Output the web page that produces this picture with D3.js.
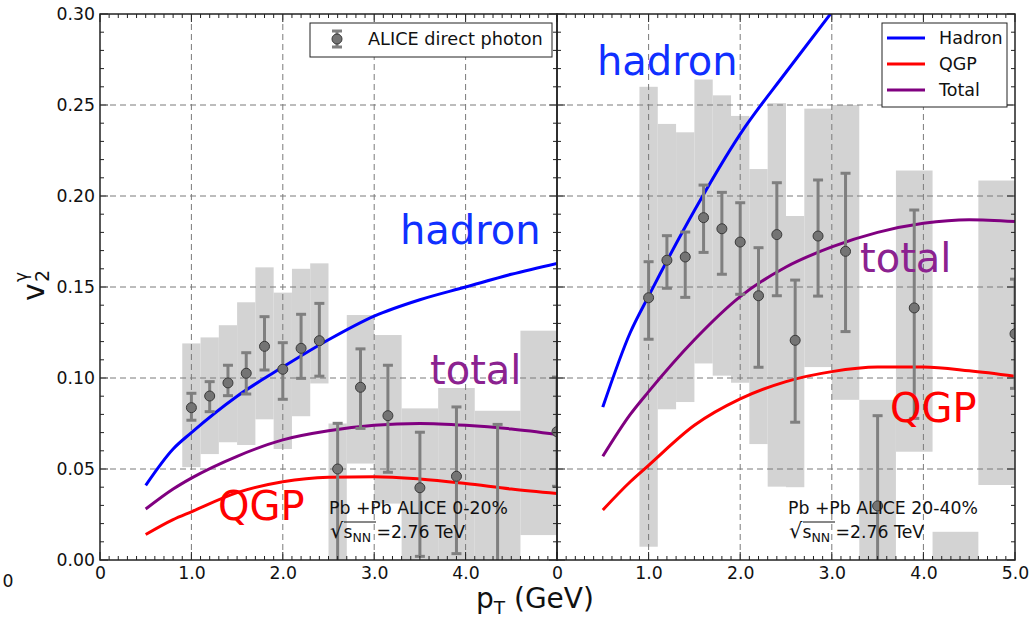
<!DOCTYPE html>
<html><head><meta charset="utf-8">
<script src="https://cdn.jsdelivr.net/npm/d3@7"></script>
<style>body{margin:0;background:#fff} svg{display:block} text{font-family:"DejaVu Sans",sans-serif}</style>
</head><body><svg id="c" width="1033" height="621"></svg>
<script>
// ---------- data ----------
const binLo = [0.9,1.1,1.3,1.5,1.7,1.9,2.1,2.3,2.5,2.7,3.0,3.3,3.7,4.1,4.6];
const binHi = [1.1,1.3,1.5,1.7,1.9,2.1,2.3,2.5,2.7,3.0,3.3,3.7,4.1,4.6,5.4];
// 0-20% systematics (top / bottom)
const sysTopL = [0.119,0.1223,0.129,0.1416,0.1608,0.1469,0.160,0.163,0.075,0.1346,0.1236,0.0833,0.0945,0.082,0.126];
const sysBotL = [0.051,0.0582,0.0647,0.0632,0.0773,0.061,0.079,0.097,-0.05,0.053,0.031,-0.05,-0.05,-0.05,0.0137];
// 20-40% systematics
const sysTopR = [0.260,0.2396,0.235,0.264,0.2553,0.244,0.2148,0.251,0.189,0.248,0.250,0.088,0.214,0.0155,0.2085];
const sysBotR = [0.0073,0.0828,0.0868,0.108,0.1013,0.0974,0.0637,0.0403,0.040,0.106,0.088,-0.05,0.0595,-0.05,0.0412];

// data points 0-20%
const ptL   = [1.0,1.2,1.4,1.6,1.8,2.0,2.2,2.4,2.6,2.85,3.15,3.5,3.9,4.35,5.0];
const v2L   = [0.0837,0.0901,0.0973,0.1026,0.1174,0.1048,0.1163,0.1205,0.050,0.0949,0.0793,0.0397,0.046,-0.015,0.0705];
const errLoL= [0.0069,0.0086,0.0070,0.0114,0.0130,0.0165,0.0165,0.0195,0.060,0.0226,0.0311,0.0377,0.0425,0.090,0.030];
const errHiL= [0.0079,0.0079,0.0097,0.0113,0.0163,0.0146,0.0187,0.0205,0.0251,0.0211,0.0277,0.0305,0.0381,0.0895,0.030];
// data points 20-40%
const ptR   = [1.0,1.2,1.4,1.6,1.8,2.0,2.2,2.4,2.6,2.85,3.15,3.5,3.9,5.0];
const v2R   = [0.1441,0.1647,0.1665,0.1881,0.182,0.1747,0.1452,0.1788,0.1207,0.178,0.1696,0.0297,0.1385,0.1243];
const errLoR= [0.0228,0.0154,0.0222,0.0191,0.025,0.0287,0.0393,0.0336,0.045,0.033,0.0441,0.060,0.0607,0.030];
const errHiR= [0.0198,0.0135,0.0137,0.0179,0.020,0.0216,0.0264,0.0285,0.0331,0.0308,0.0429,0.0496,0.0538,0.030];

// model curves
const ptCurve   = [0.5,0.8,1.0,1.5,2.0,2.5,3.0,3.5,4.0,4.5,5.0];
const hadronL   = [0.041,0.061,0.070,0.090,0.106,0.121,0.134,0.143,0.150,0.157,0.163];
const qgpL      = [0.014,0.0222,0.0265,0.037,0.043,0.0455,0.0458,0.0445,0.042,0.039,0.0365];
const totalL    = [0.028,0.039,0.045,0.057,0.066,0.071,0.074,0.075,0.074,0.072,0.069];
const hadronR   = [0.084,0.125,0.145,0.192,0.234,0.268,0.301];
const qgpR      = [0.0275,0.043,0.052,0.074,0.0885,0.098,0.1035,0.106,0.106,0.104,0.101];
const totalR    = [0.057,0.080,0.0925,0.121,0.1447,0.161,0.172,0.180,0.185,0.187,0.186];

const yTicks = [0,0.05,0.10,0.15,0.20,0.25,0.30];
const xTicksL = [0,1,2,3,4];
const xTicksR = [0,1,2,3,4,5];
const legendNames = ["Hadron","QGP","Total"];
const colors = {hadron:"#0000ff", qgp:"#ff0000", total:"#800080"};

// ---------- drawing ----------
const svg = d3.select('#c');
const yTop = 14, yBot = 560;
const y = d3.scaleLinear().domain([0,0.3]).range([yBot,yTop]);
const FS = 17.3;

const panels = [
  {x: d3.scaleLinear().domain([0,5]).range([100,557]), sysTop: sysTopL, sysBot: sysBotL,
   pt: ptL, v2: v2L, lo: errLoL, hi: errHiL, hadron: hadronL, qgp: qgpL, total: totalL, xt: xTicksL},
  {x: d3.scaleLinear().domain([0,5]).range([557,1015]), sysTop: sysTopR, sysBot: sysBotR,
   pt: ptR, v2: v2R, lo: errLoR, hi: errHiR, hadron: hadronR, qgp: qgpR, total: totalR, xt: xTicksR}
];

const defs = svg.append('defs');
panels.forEach((p, k) => {
  const x = p.x;
  const [x0, x1] = x.range();
  defs.append('clipPath').attr('id', 'clip' + k).append('rect')
    .attr('x', x0).attr('y', yTop).attr('width', x1 - x0).attr('height', yBot - yTop);
  const g = svg.append('g').attr('clip-path', `url(#clip${k})`);

  // systematic boxes
  g.append('g').selectAll('rect').data(d3.range(binLo.length)).join('rect')
    .attr('x', i => x(binLo[i])).attr('width', i => x(binHi[i]) - x(binLo[i]))
    .attr('y', i => y(p.sysTop[i])).attr('height', i => y(p.sysBot[i]) - y(p.sysTop[i]))
    .attr('fill', '#d3d3d3');

  // grid
  const grid = g.append('g').attr('stroke', '#7a7a7a').attr('stroke-width', 1)
    .attr('stroke-dasharray', '6,4').attr('fill', 'none');
  [1,2,3,4].forEach(v => grid.append('line').attr('x1', x(v)).attr('x2', x(v)).attr('y1', yTop).attr('y2', yBot));
  [0.05,0.10,0.15,0.20,0.25].forEach(v => grid.append('line').attr('x1', x0).attr('x2', x1).attr('y1', y(v)).attr('y2', y(v)));

  // curves
  const line = d3.line().x((d, i) => x(ptCurve[i])).y(d => y(d)).curve(d3.curveMonotoneX);
  [['qgp', p.qgp], ['total', p.total], ['hadron', p.hadron]].forEach(([n, arr]) => {
    g.append('path').datum(arr).attr('d', line).attr('fill', 'none')
      .attr('stroke', colors[n]).attr('stroke-width', 3);
  });

  // error bars
  const eb = g.append('g').attr('stroke', '#7f7f7f').attr('stroke-width', 3);
  p.pt.forEach((v, i) => {
    const cx = x(v), yl = y(p.v2[i] - p.lo[i]), yh = y(p.v2[i] + p.hi[i]);
    eb.append('line').attr('x1', cx).attr('x2', cx).attr('y1', yl).attr('y2', yh);
    eb.append('line').attr('x1', cx - 5).attr('x2', cx + 5).attr('y1', yl).attr('y2', yl);
    eb.append('line').attr('x1', cx - 5).attr('x2', cx + 5).attr('y1', yh).attr('y2', yh);
  });
  g.append('g').selectAll('circle').data(p.pt).join('circle')
    .attr('cx', d => x(d)).attr('cy', (d, i) => y(p.v2[i])).attr('r', 5)
    .attr('fill', '#747474').attr('stroke', '#3a3a3a').attr('stroke-width', 1);

  // frame
  svg.append('rect').attr('x', x0).attr('y', yTop).attr('width', x1 - x0).attr('height', yBot - yTop)
    .attr('fill', 'none').attr('stroke', '#222').attr('stroke-width', 1.5);

  // ticks (inward, all sides)
  const minorX = d3.range(0, 50.5, 1).map(d => d / 10);
  const minorY = d3.range(0, 30.5, 1).map(d => d / 100);
  const tk = svg.append('g').attr('stroke', '#222').attr('stroke-width', 1);
  minorX.forEach(v => {
    const major = Math.abs(v - Math.round(v)) < 1e-9;
    const L = major ? 8 : 4;
    tk.append('line').attr('x1', x(v)).attr('x2', x(v)).attr('y1', yBot).attr('y2', yBot - L);
    tk.append('line').attr('x1', x(v)).attr('x2', x(v)).attr('y1', yTop).attr('y2', yTop + L);
  });
  minorY.forEach(v => {
    const major = Math.abs(v * 20 - Math.round(v * 20)) < 1e-6;
    const L = major ? 8 : 4;
    tk.append('line').attr('x1', x0).attr('x2', x0 + L).attr('y1', y(v)).attr('y2', y(v));
    tk.append('line').attr('x1', x1).attr('x2', x1 - L).attr('y1', y(v)).attr('y2', y(v));
  });

  // x tick labels
  const ax = d3.axisBottom(x).tickValues(p.xt).tickSize(0).tickPadding(7)
    .tickFormat(d => d === 0 ? '0' : d3.format('.1f')(d));
  const axg = svg.append('g').attr('transform', `translate(0,${yBot})`).call(ax);
  axg.select('.domain').remove();
  axg.selectAll('text').attr('font-size', FS).attr('font-family', '"DejaVu Sans",sans-serif').attr('fill', '#111');
});

// y tick labels
const ay = d3.axisLeft(y).tickValues(yTicks).tickSize(0).tickPadding(5).tickFormat(d3.format('.2f'));
const ayg = svg.append('g').attr('transform', 'translate(100,0)').call(ay);
ayg.select('.domain').remove();
ayg.selectAll('text').attr('font-size', FS).attr('font-family', '"DejaVu Sans",sans-serif').attr('fill', '#111');

// stray "0" at bottom-left
svg.append('text').attr('x', 8).attr('y', 587).attr('text-anchor', 'middle').attr('font-size', FS).attr('fill', '#111').text('0');

// axis titles
const xl = svg.append('text').attr('x', 476).attr('y', 608).attr('font-size', 28).attr('fill', '#111');
xl.append('tspan').text('p');
xl.append('tspan').attr('font-size', 18.5).attr('dy', 6).text('T');
xl.append('tspan').attr('dy', -6).text(' (GeV)');

const yl = svg.append('g').attr('transform', 'translate(44,287) rotate(-90)');
yl.append('text').attr('x', -14).attr('y', 0).attr('font-size', 30).attr('fill', '#111').text('v');
yl.append('text').attr('x', 5).attr('y', 5).attr('font-size', 19).attr('fill', '#111').text('2');
yl.append('text').attr('x', 5).attr('y', -17).attr('font-size', 17).attr('fill', '#111').text('\u03b3');

// annotations
const big = (t, xx, yy, c) => svg.append('text').attr('x', xx).attr('y', yy).attr('font-size', 40)
  .attr('font-family', 'Lato, "Open Sans", sans-serif').attr('fill', c).text(t);
big('hadron', 400, 244, '#1030ff');
big('total', 430, 384, '#8b2290');
big('QGP', 218, 520, '#ff0000');
big('hadron', 597, 75, '#1030ff');
big('total', 860, 272, '#8b2290');
big('QGP', 890, 422, '#ff0000');

function energy(xx, label) {
  svg.append('text').attr('x', xx).attr('y', 514).attr('font-size', FS).attr('fill', '#111').text(label);
  const t = svg.append('text').attr('x', xx + 1).attr('y', 538).attr('font-size', FS).attr('fill', '#111');
  t.append('tspan').attr('font-size', 21).text('\u221a');
  t.append('tspan').text('s');
  t.append('tspan').attr('font-size', 12.5).attr('dy', 4).text('NN');
  t.append('tspan').attr('dy', -4).text(' =2.76 TeV');
  svg.append('line').attr('x1', xx + 15).attr('x2', xx + 47).attr('y1', 522).attr('y2', 522)
    .attr('stroke', '#111').attr('stroke-width', 1);
}
energy(329, 'Pb +Pb ALICE 0-20%');
energy(788, 'Pb +Pb ALICE 20-40%');

// legend left
svg.append('rect').attr('x', 310).attr('y', 23).attr('width', 242).attr('height', 34)
  .attr('fill', '#fff').attr('stroke', '#222').attr('stroke-width', 1);
const lg = svg.append('g').attr('stroke', '#7f7f7f').attr('stroke-width', 3);
lg.append('line').attr('x1', 337).attr('x2', 337).attr('y1', 31).attr('y2', 47);
lg.append('line').attr('x1', 332).attr('x2', 342).attr('y1', 31).attr('y2', 31);
lg.append('line').attr('x1', 332).attr('x2', 342).attr('y1', 47).attr('y2', 47);
svg.append('circle').attr('cx', 337).attr('cy', 39).attr('r', 5).attr('fill', '#747474').attr('stroke', '#3a3a3a');
svg.append('text').attr('x', 368).attr('y', 45).attr('font-size', 17.7).attr('fill', '#111').text('ALICE direct photon');

// legend right
svg.append('rect').attr('x', 882).attr('y', 23).attr('width', 125).attr('height', 84)
  .attr('fill', '#fff').attr('stroke', '#222').attr('stroke-width', 1);
const lc = [colors.hadron, colors.qgp, colors.total];
legendNames.forEach((n, i) => {
  const yy = 38 + i * 26;
  svg.append('line').attr('x1', 887).attr('x2', 925).attr('y1', yy).attr('y2', yy)
    .attr('stroke', lc[i]).attr('stroke-width', 3);
  svg.append('text').attr('x', 939).attr('y', yy + 6).attr('font-size', 17.5).attr('fill', '#111').text(n);
});
</script></body></html>
